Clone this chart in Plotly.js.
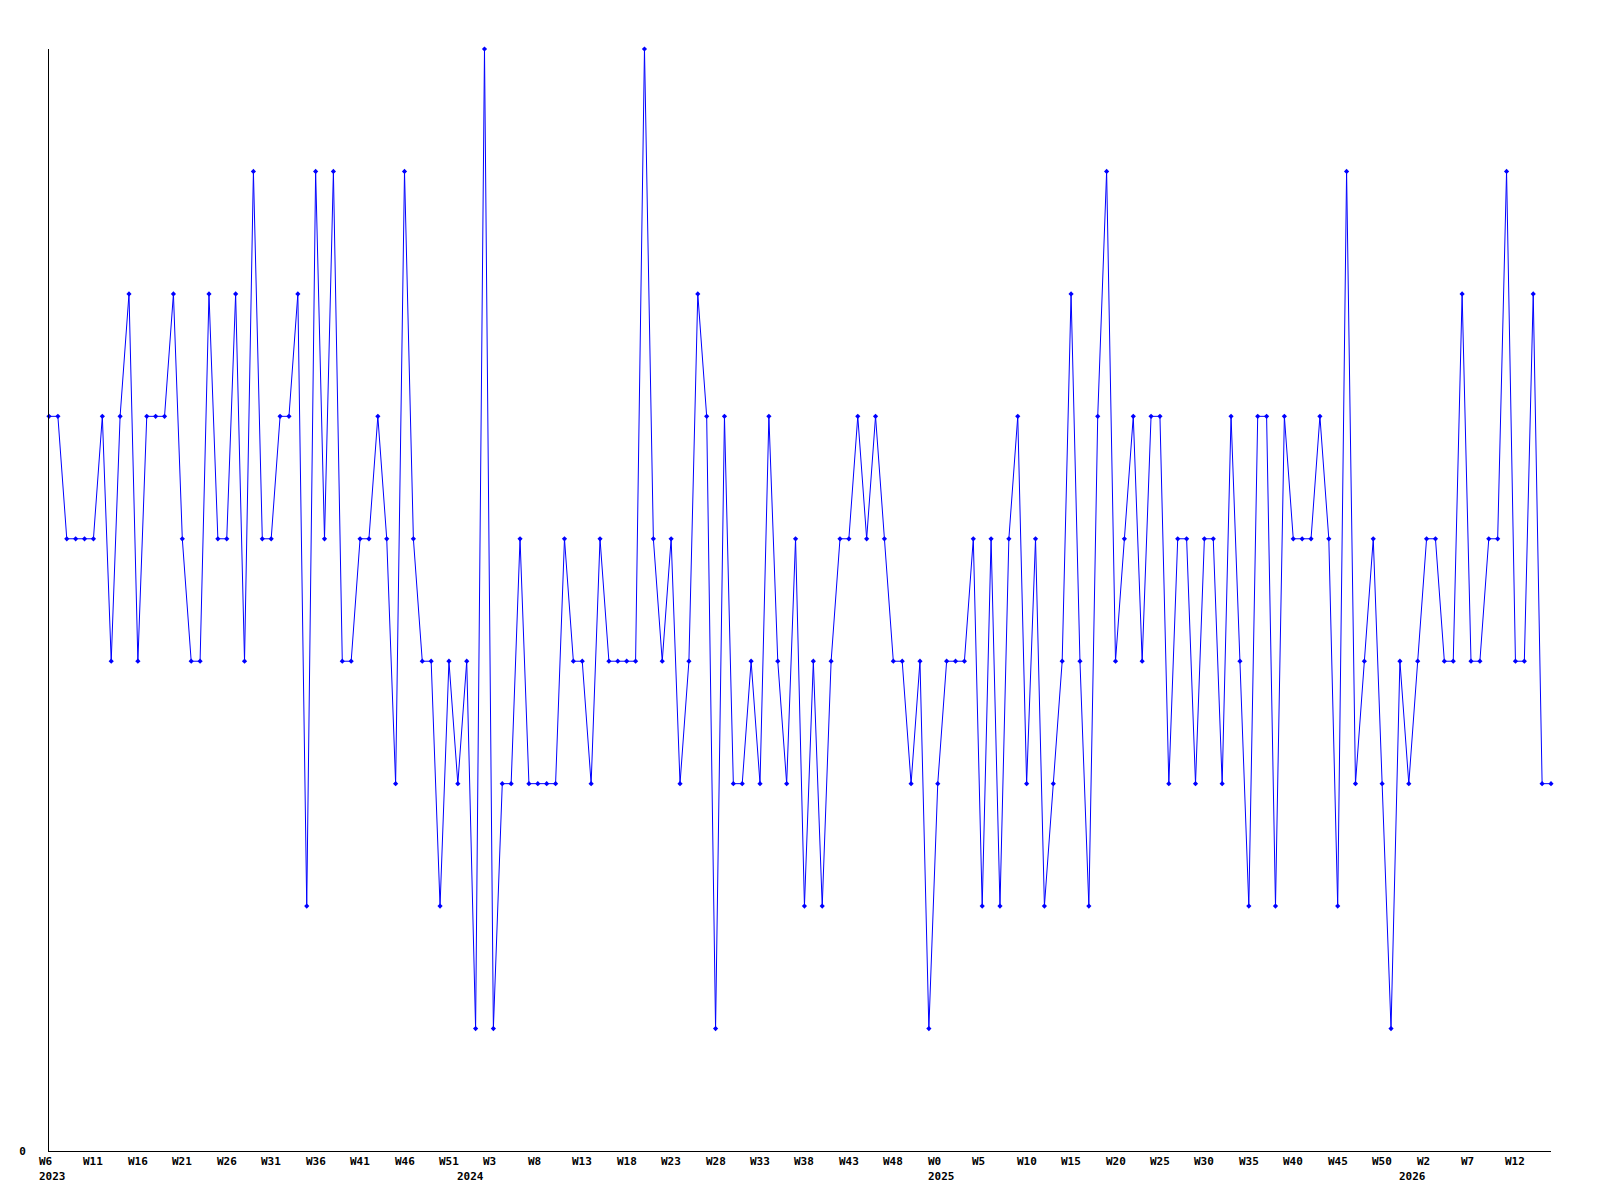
<!DOCTYPE html>
<html>
<head>
<meta charset="utf-8">
<script src="https://cdn.plot.ly/plotly-3.0.1.min.js"></script>
<style>
  html, body { margin: 0; padding: 0; background: #ffffff; }
  #chart { width: 1600px; height: 1200px; }
</style>
</head>
<body>
<div id="chart"></div>
<script>
// Weekly values, 2023 W6 onward (one per week)
const values = [
  6, 6, 5, 5, 5, 5, 6, 4, 6, 7,
  4, 6, 6, 6, 7, 5, 4, 4, 7, 5,
  5, 7, 4, 8, 5, 5, 6, 6, 7, 2,
  8, 5, 8, 4, 4, 5, 5, 6, 5, 3,
  8, 5, 4, 4, 2, 4, 3, 4, 1, 9,
  1, 3, 3, 5, 3, 3, 3, 3, 5, 4,
  4, 3, 5, 4, 4, 4, 4, 9, 5, 4,
  5, 3, 4, 7, 6, 1, 6, 3, 3, 4,
  3, 6, 4, 3, 5, 2, 4, 2, 4, 5,
  5, 6, 5, 6, 5, 4, 4, 3, 4, 1,
  3, 4, 4, 4, 5, 2, 5, 2, 5, 6,
  3, 5, 2, 3, 4, 7, 4, 2, 6, 8,
  4, 5, 6, 4, 6, 6, 3, 5, 5, 3,
  5, 5, 3, 6, 4, 2, 6, 6, 2, 6,
  5, 5, 5, 6, 5, 2, 8, 3, 4, 5,
  3, 1, 4, 3, 4, 5, 5, 4, 4, 7,
  4, 4, 5, 5, 8, 4, 4, 7, 3, 3
];

// Week tick labels, one every 5 weeks
const tickWeeks = [
  "W6", "W11", "W16", "W21", "W26", "W31", "W36", "W41", "W46", "W51",
  "W3", "W8", "W13", "W18", "W23", "W28", "W33", "W38", "W43", "W48",
  "W0", "W5", "W10", "W15", "W20", "W25", "W30", "W35", "W40", "W45", "W50",
  "W2", "W7", "W12"
];
const tickStep = 5;

// Year labels, placed at the first week of each year (week index)
const years = ["2023", "2024", "2025", "2026"];
const yearStartWeek = [0, 47, 100, 153];

const xIdx = values.map((_, i) => i);
const tickVals = tickWeeks.map((_, i) => i * tickStep);

const font = { family: "DejaVu Sans Mono, monospace", size: 11, color: "#000000", weight: "bold" };

const trace = {
  x: xIdx,
  y: values,
  type: "scatter",
  mode: "lines+markers",
  line: { color: "#0000ff", width: 1 },
  marker: { color: "#0000ff", size: 4, symbol: "diamond" },
  cliponaxis: false,
  hoverinfo: "skip"
};

const annotations = [];
tickWeeks.forEach((w, i) => {
  annotations.push({
    x: tickVals[i], xref: "x", y: 0, yref: "paper",
    text: w, showarrow: false, font: font,
    xanchor: "left", yanchor: "middle",
    xshift: -10, yshift: -10,
    borderpad: 0, borderwidth: 0
  });
});
years.forEach((y, i) => {
  annotations.push({
    x: yearStartWeek[i], xref: "x", y: 0, yref: "paper",
    text: y, showarrow: false, font: font,
    xanchor: "left", yanchor: "middle",
    xshift: -10, yshift: -25,
    borderpad: 0, borderwidth: 0
  });
});

const layout = {
  width: 1600,
  height: 1200,
  margin: { l: 49, r: 49, t: 49, b: 49, pad: 0 },
  paper_bgcolor: "#ffffff",
  plot_bgcolor: "#ffffff",
  showlegend: false,
  font: font,
  annotations: annotations,
  xaxis: {
    range: [0, values.length - 1],
    tickmode: "array",
    tickvals: tickVals,
    showticklabels: false,
    showgrid: false,
    zeroline: false,
    showline: true,
    linecolor: "#000000",
    linewidth: 1,
    ticks: ""
  },
  yaxis: {
    range: [0, 9],
    tickmode: "array",
    tickvals: [0],
    ticktext: ["0"],
    showgrid: false,
    zeroline: false,
    showline: true,
    linecolor: "#000000",
    linewidth: 1,
    ticks: "",
    ticklabelstandoff: 20,
    tickfont: font
  }
};

Plotly.newPlot("chart", [trace], layout, { staticPlot: true, displayModeBar: false });
</script>
</body>
</html>
